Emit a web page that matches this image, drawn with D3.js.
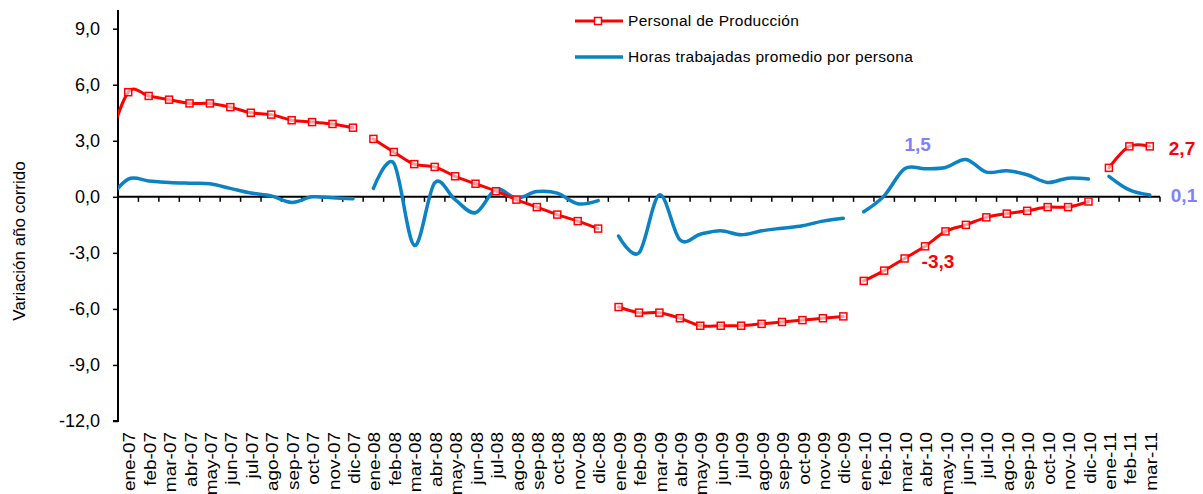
<!DOCTYPE html>
<html>
<head>
<meta charset="utf-8">
<script src="https://cdn.jsdelivr.net/npm/d3@7"></script>
<style>
  body { margin: 0; background: #fff; }
  svg { display: block; font-family: "Liberation Sans", Arial, sans-serif; }
</style>
</head>
<body>
<svg id="chart" width="1203" height="494"></svg>
<script>
// Monthly categories, January 2007 to March 2011
const months = [
  "ene-07","feb-07","mar-07","abr-07","may-07","jun-07","jul-07","ago-07","sep-07","oct-07","nov-07","dic-07",
  "ene-08","feb-08","mar-08","abr-08","may-08","jun-08","jul-08","ago-08","sep-08","oct-08","nov-08","dic-08",
  "ene-09","feb-09","mar-09","abr-09","may-09","jun-09","jul-09","ago-09","sep-09","oct-09","nov-09","dic-09",
  "ene-10","feb-10","mar-10","abr-10","may-10","jun-10","jul-10","ago-10","sep-10","oct-10","nov-10","dic-10",
  "ene-11","feb-11","mar-11"
];

// Personal de Producción, variación año corrido (%)
const personal = [
  5.6, 5.4, 5.2, 5.0, 5.0, 4.8, 4.5, 4.4, 4.1, 4.0, 3.9, 3.7,
  3.1, 2.4, 1.75, 1.6, 1.1, 0.7, 0.3, -0.15, -0.55, -0.95, -1.3, -1.7,
  -5.9, -6.2, -6.2, -6.5, -6.9, -6.9, -6.9, -6.8, -6.7, -6.6, -6.5, -6.4,
  -4.5, -3.95, -3.3, -2.65, -1.85, -1.5, -1.1, -0.9, -0.75, -0.55, -0.55, -0.25,
  1.55, 2.7, 2.7
];

// Horas trabajadas promedio por persona, variación año corrido (%)
const horas = [
  0.95, 0.85, 0.77, 0.73, 0.7, 0.45, 0.2, 0.05, -0.3, 0.0, -0.05, -0.1,
  0.45, 1.8, -2.6, 0.75, -0.15, -0.85, 0.4, -0.07, 0.28, 0.2, -0.37, -0.2,
  -2.1, -3.0, 0.1, -2.3, -2.0, -1.82, -2.03, -1.82, -1.68, -1.55, -1.3, -1.15,
  -0.8, 0.05, 1.5, 1.5, 1.57, 2.0, 1.32, 1.4, 1.18, 0.77, 1.0, 0.95,
  1.1, 0.37, 0.1
];

// December 2006 readings; the curves enter the plot from this month
const personalDic06 = 2.7;
const horasDic06 = -0.23;

const yTicks = [-12, -9, -6, -3, 0, 3, 6, 9];
const seriesNames = ["Personal de Producción", "Horas trabajadas promedio por persona"];
const seriesColors = ["#ff0000", "#0a82c4"];

// Value labels: [series index, month, text]
const valueLabels = [
  [1, "mar-10", "1,5"],
  [0, "mar-10", "-3,3"],
  [0, "mar-11", "2,7"],
  [1, "mar-11", "0,1"]
];

const svg = d3.select("#chart");
const plotLeft = 118, plotRight = 1160, plotTop = 10, plotBottom = 421;

const x = d3.scaleLinear().domain([-0.5, months.length - 0.5]).range([plotLeft, plotRight]);
const y = d3.scaleLinear().domain([-12, 10]).range([plotBottom, plotTop]);

svg.append("defs").append("clipPath").attr("id", "plotClip")
  .append("rect").attr("x", plotLeft).attr("y", 0)
  .attr("width", plotRight - plotLeft).attr("height", 494);

// Y axis
const yAxis = d3.axisLeft(y).tickValues(yTicks).tickSize(5).tickPadding(13)
  .tickFormat(d => d3.format(".1f")(d).replace(".", ",").replace("−", "-"));
const gy = svg.append("g").attr("transform", `translate(${plotLeft},0)`).call(yAxis);
gy.select(".domain").attr("d", `M-5,${plotBottom}H0V${plotTop}`).attr("stroke", "#000").attr("stroke-width", 2);
gy.selectAll(".tick line").attr("stroke", "#000").attr("stroke-width", 1.5);
gy.selectAll(".tick text").attr("font-size", 18).attr("fill", "#000")
  .attr("font-family", "'Liberation Sans', Arial, sans-serif");

svg.append("text")
  .attr("transform", "translate(25,241) rotate(-90)")
  .attr("text-anchor", "middle")
  .attr("font-size", 17)
  .attr("fill", "#000")
  .text("Variación año corrido");

// Category axis along zero line, ticks between months
const boundaries = d3.range(months.length + 1).map(k => k - 0.5);
const gx = svg.append("g");
gx.selectAll("line.tk").data(boundaries).join("line")
  .attr("x1", d => x(d)).attr("x2", d => x(d))
  .attr("y1", y(0)).attr("y2", y(0) + 5)
  .attr("stroke", "#000").attr("stroke-width", 1.5);
gx.append("line")
  .attr("x1", plotLeft).attr("x2", plotRight)
  .attr("y1", y(0)).attr("y2", y(0))
  .attr("stroke", "#000").attr("stroke-width", 2);

// Month labels at the bottom of the plot
svg.append("g").selectAll("text").data(months).join("text")
  .attr("transform", (d, i) => `translate(${x(i) + 1.5},432) rotate(-90) scale(1,0.84)`)
  .attr("text-anchor", "end")
  .attr("dy", "0.35em")
  .attr("font-size", 19)
  .attr("fill", "#000")
  .text(d => d);

// Split each series into yearly segments
const yearOf = m => m.slice(-2);
function segments(values, prior) {
  const pts = values.map((v, i) => ({ i, v, m: months[i] }));
  const groups = d3.groups(pts, p => yearOf(p.m)).map(g => g[1]);
  groups[0] = [{ i: -1, v: prior, m: "dic-06" }, ...groups[0]];
  return { groups, pts };
}

const line = d3.line().x(p => x(p.i)).y(p => y(p.v)).curve(d3.curveCardinal.tension(0));

const plot = svg.append("g").attr("clip-path", "url(#plotClip)");

// Horas trabajadas
const h = segments(horas, horasDic06);
plot.append("g").selectAll("path").data(h.groups).join("path")
  .attr("d", line).attr("fill", "none")
  .attr("stroke", seriesColors[1]).attr("stroke-width", 3.5)
  .attr("stroke-linecap", "round");

// Personal de producción
const p = segments(personal, personalDic06);
plot.append("g").selectAll("path").data(p.groups).join("path")
  .attr("d", line).attr("fill", "none")
  .attr("stroke", seriesColors[0]).attr("stroke-width", 3)
  .attr("stroke-linecap", "round");
plot.append("g").selectAll("rect").data(p.pts).join("rect")
  .attr("x", d => x(d.i) - 3.5).attr("y", d => y(d.v) - 3.5)
  .attr("width", 7).attr("height", 7)
  .attr("fill", "#fff").attr("fill-opacity", 0.6)
  .attr("stroke", seriesColors[0]).attr("stroke-width", 1.5);

// Value labels
const labelColors = ["#ff0000", "#7f7fff"];
const labelOffsets = { "1,5": [13, -18, "middle"], "-3,3": [17, 10, "start"], "2,7": [19, 9, "start"], "0,1": [21, 7, "start"] };
svg.append("g").selectAll("text").data(valueLabels).join("text")
  .attr("x", d => x(months.indexOf(d[1])) + labelOffsets[d[2]][0])
  .attr("y", d => y((d[0] === 0 ? personal : horas)[months.indexOf(d[1])]) + labelOffsets[d[2]][1])
  .attr("text-anchor", d => labelOffsets[d[2]][2])
  .attr("font-size", 19).attr("font-weight", "bold")
  .attr("fill", d => labelColors[d[0]])
  .text(d => d[2]);

// Legend
const legend = svg.append("g").attr("transform", "translate(575,0)");
const legendRows = [21, 57];
legend.selectAll("line").data(seriesNames).join("line")
  .attr("x1", 0).attr("x2", 48)
  .attr("y1", (d, i) => legendRows[i]).attr("y2", (d, i) => legendRows[i])
  .attr("stroke", (d, i) => seriesColors[i]).attr("stroke-width", (d, i) => i === 0 ? 3 : 3.5);
legend.append("rect").attr("x", 23 - 3.5).attr("y", legendRows[0] - 3.5)
  .attr("width", 7).attr("height", 7).attr("fill", "#fff")
  .attr("stroke", seriesColors[0]).attr("stroke-width", 1.5);
legend.selectAll("text").data(seriesNames).join("text")
  .attr("x", 53).attr("y", (d, i) => legendRows[i]).attr("dy", "0.35em")
  .attr("font-size", 15.5).attr("fill", "#000")
  .attr("letter-spacing", 0.3)
  .text(d => d);
</script>
</body>
</html>
